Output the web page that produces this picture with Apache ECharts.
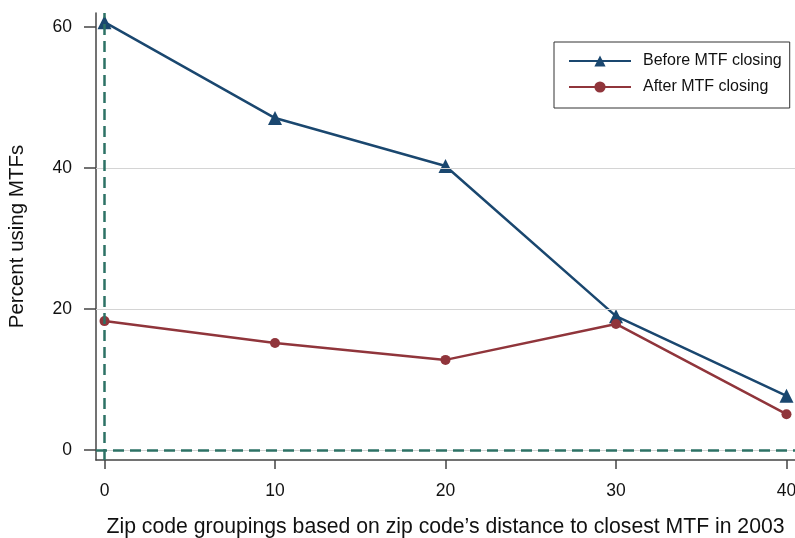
<!DOCTYPE html>
<html><head><meta charset="utf-8">
<script src="https://cdn.jsdelivr.net/npm/echarts@6/dist/echarts.min.js"></script>
<style>html,body{margin:0;padding:0;background:#fff}#c{width:795px;height:538px}</style>
</head><body><div id="c"></div>
<script>
const distances = [0, 10, 20, 30, 40];
const beforeClosing = [60.7, 47.1, 40.3, 19.0, 7.7];
const afterClosing = [18.3, 15.2, 12.8, 17.9, 5.1];
const xTicks = [0, 10, 20, 30, 40];
const yTicks = [0, 20, 40, 60];
const gridValues = [0, 20, 40];

const font = 'Liberation Sans, Arial, Helvetica, sans-serif';
const chart = echarts.init(document.getElementById('c'), null, {renderer: 'canvas'});
const guideData = gridValues.map(v => ({yAxis: v, lineStyle: {color: '#d4d4d4', width: 1.2, type: 'solid'}}));
guideData.push({xAxis: 0, lineStyle: {color: '#2d7265', width: 2.5, type: [11, 6]}});
guideData.push({yAxis: 0, lineStyle: {color: '#2d7265', width: 2.5, type: [11, 6]}});
chart.setOption({
  animation: false,
  backgroundColor: '#fff',
  grid: {left: 96, right: 0, top: 13, bottom: 78, containLabel: false, outerBoundsMode: 'none'},
  xAxis: {
    type: 'value', min: -0.5, max: 40.5,
    name: 'Zip code groupings based on zip code\u2019s distance to closest MTF in 2003',
    nameLocation: 'middle', nameGap: 57,
    nameTextStyle: {fontFamily: font, fontSize: 21.2, color: '#111'},
    axisLine: {show: true, onZero: false, lineStyle: {color: '#444', width: 1.5}},
    axisTick: {show: true, customValues: xTicks, length: 9, lineStyle: {color: '#444', width: 1.5}},
    axisLabel: {customValues: xTicks, margin: 22, fontFamily: font, fontSize: 17.5, color: '#111'},
    splitLine: {show: false}
  },
  yAxis: {
    type: 'value', min: -1.4, max: 62,
    name: 'Percent using MTFs',
    nameLocation: 'middle', nameGap: 68,
    nameTextStyle: {fontFamily: font, fontSize: 20.5, color: '#111'},
    axisLine: {show: true, onZero: false, lineStyle: {color: '#444', width: 1.5}},
    axisTick: {show: true, customValues: yTicks, length: 12, lineStyle: {color: '#444', width: 1.5}},
    axisLabel: {customValues: yTicks, margin: 24, fontFamily: font, fontSize: 17.5, color: '#111'},
    splitLine: {show: false}
  },
  legend: {
    data: ['Before MTF closing', 'After MTF closing'],
    orient: 'vertical', left: 554, top: 42,
    itemWidth: 62, itemHeight: 14, itemGap: 10,
    padding: [11, 8, 13, 14],
    borderColor: '#333', borderWidth: 1, backgroundColor: '#fff',
    textStyle: {fontFamily: font, fontSize: 16, color: '#111', padding: [0, 0, 0, 7]}
  },
  series: [
    {
      name: 'guides', type: 'line', data: [], z: 1, silent: true,
      markLine: {silent: true, symbol: 'none', label: {show: false}, animation: false, data: guideData}
    },
    {
      name: 'Before MTF closing', type: 'line', z: 3,
      data: distances.map((d, i) => [d, beforeClosing[i]]),
      symbol: 'triangle', symbolSize: 14,
      lineStyle: {color: '#1a476f', width: 2.5},
      itemStyle: {color: '#1a476f'}
    },
    {
      name: 'After MTF closing', type: 'line', z: 3,
      data: distances.map((d, i) => [d, afterClosing[i]]),
      symbol: 'circle', symbolSize: 10,
      lineStyle: {color: '#90353b', width: 2.5},
      itemStyle: {color: '#90353b'}
    }
  ]
});
</script></body></html>
